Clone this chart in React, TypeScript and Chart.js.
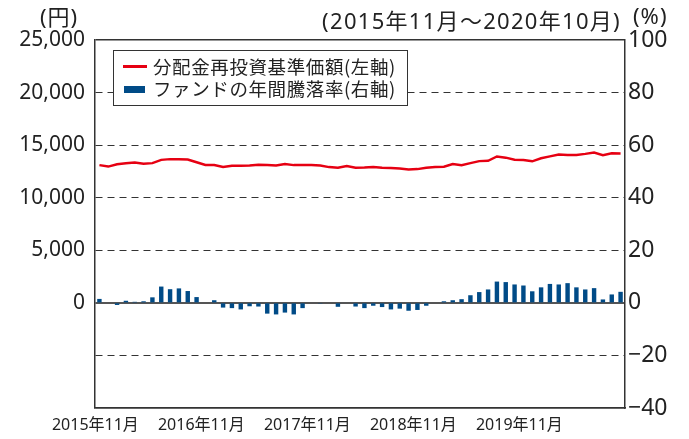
import React, { useEffect, useRef } from "react";
import { Chart, registerables } from "chart.js";

Chart.register(...registerables);

const months: string[] = [
  "2015年11月", "2015年12月", "2016年1月", "2016年2月", "2016年3月", "2016年4月",
  "2016年5月", "2016年6月", "2016年7月", "2016年8月", "2016年9月", "2016年10月",
  "2016年11月", "2016年12月", "2017年1月", "2017年2月", "2017年3月", "2017年4月",
  "2017年5月", "2017年6月", "2017年7月", "2017年8月", "2017年9月", "2017年10月",
  "2017年11月", "2017年12月", "2018年1月", "2018年2月", "2018年3月", "2018年4月",
  "2018年5月", "2018年6月", "2018年7月", "2018年8月", "2018年9月", "2018年10月",
  "2018年11月", "2018年12月", "2019年1月", "2019年2月", "2019年3月", "2019年4月",
  "2019年5月", "2019年6月", "2019年7月", "2019年8月", "2019年9月", "2019年10月",
  "2019年11月", "2019年12月", "2020年1月", "2020年2月", "2020年3月", "2020年4月",
  "2020年5月", "2020年6月", "2020年7月", "2020年8月", "2020年9月", "2020年10月",
];

// 分配金再投資基準価額 (円, left axis)
const navValues: number[] = [
  13100, 12960, 13180, 13280, 13340, 13230, 13290, 13600, 13670, 13670, 13640, 13370,
  13110, 13120, 12920, 13050, 13040, 13070, 13130, 13100, 13060, 13200, 13100, 13100,
  13100, 13070, 12910, 12850, 13010, 12850, 12870, 12910, 12850, 12820, 12780, 12680,
  12720, 12850, 12910, 12940, 13200, 13100, 13290, 13480, 13510, 13920, 13810, 13610,
  13580, 13460, 13750, 13930, 14100, 14070, 14070, 14170, 14290, 14050, 14220, 14200,
];

// ファンドの年間騰落率 (%, right axis)
const yearlyReturn: number[] = [
  1.5, 0, -0.8, 0.8, 0.4, 0.6, 2.1, 6.2, 5.2, 5.5, 4.5, 2.2,
  0, 1.0, -1.8, -2.0, -2.5, -1.3, -1.4, -4.1, -4.4, -3.7, -4.4, -2.0,
  0, -0.3, 0, -1.5, 0, -1.4, -2.0, -1.1, -1.6, -2.5, -2.2, -3.0,
  -2.7, -1.1, 0.2, 0.6, 1.0, 1.4, 2.9, 4.1, 5.1, 8.1, 7.9, 7.0,
  6.6, 4.4, 5.9, 7.2, 7.0, 7.5, 5.9, 5.1, 5.6, 1.3, 3.2, 4.2,
];

const navLabel = "分配金再投資基準価額(左軸)";
const returnLabel = "ファンドの年間騰落率(右軸)";
const leftUnit = "(円)";
const rightUnit = "(%)";
const periodText = "(2015年11月～2020年10月)";

const leftTicks = { min: -10000, max: 25000, step: 5000 };
const rightTicks = { min: -40, max: 100, step: 20 };

const RED = "#e60012";
const BLUE = "#004b87";
const TEXT = "#222222";
const FONT = "'Noto Sans', 'Noto Sans CJK JP', sans-serif";
const CJK_FONT = "'Noto Sans CJK JP', 'Noto Sans', sans-serif";

const overlayPlugin = {
  id: "overlay",
  afterDraw(chart: any) {
    const ctx = chart.ctx as any;
    ctx.save();
    ctx.fillStyle = TEXT;
    ctx.textBaseline = "middle";
    ctx.font = `22px ${FONT}`;
    ctx.textAlign = "left";
    ctx.letterSpacing = "1px";
    ctx.fillText(leftUnit, 40, 19);
    ctx.fillText(rightUnit, 633, 18);
    ctx.textAlign = "right";
    ctx.letterSpacing = "1.3px";
    ctx.fillText(periodText, 621, 23);

    // legend box
    const bx = 113, by = 50, bw = 294, bh = 55;
    ctx.fillStyle = "#ffffff";
    ctx.fillRect(bx, by, bw, bh);
    ctx.strokeStyle = "#333333";
    ctx.lineWidth = 1;
    ctx.strokeRect(bx + 0.5, by + 0.5, bw, bh);
    const ds = chart.data.datasets;
    const lineDs = ds.find((d: any) => d.type === "line");
    const barDs = ds.find((d: any) => d.type !== "line");
    ctx.strokeStyle = lineDs.borderColor;
    ctx.lineWidth = 3;
    ctx.beginPath();
    ctx.moveTo(123, 66.5);
    ctx.lineTo(147, 66.5);
    ctx.stroke();
    ctx.fillStyle = barDs.backgroundColor;
    ctx.fillRect(124, 86, 21, 7);
    ctx.fillStyle = TEXT;
    ctx.textAlign = "left";
    ctx.letterSpacing = "0.6px";
    ctx.font = `18.5px ${CJK_FONT}`;
    ctx.fillText(lineDs.label, 153, 66.5);
    ctx.fillText(barDs.label, 153, 89);
    ctx.restore();
  },
};

export default function App() {
  const canvasRef = useRef<HTMLCanvasElement | null>(null);

  useEffect(() => {
    if (!canvasRef.current) return;
    const chart = new Chart(canvasRef.current, {
      type: "bar",
      data: {
        labels: months,
        datasets: [
          {
            type: "line",
            label: navLabel,
            data: navValues,
            borderColor: RED,
            backgroundColor: RED,
            borderWidth: 2.5,
            pointRadius: 0,
            tension: 0,
            yAxisID: "y",
            order: 0,
          } as any,
          {
            type: "bar",
            label: returnLabel,
            data: yearlyReturn,
            backgroundColor: BLUE,
            barPercentage: 0.5,
            categoryPercentage: 1,
            yAxisID: "y2",
            order: 1,
          },
        ],
      },
      options: {
        animation: false,
        responsive: true,
        maintainAspectRatio: false,
        layout: { padding: { top: 40, left: 0, right: 0, bottom: 0 } },
        plugins: { legend: { display: false }, tooltip: { enabled: false }, title: { display: false } },
        scales: {
          x: {
            type: "category",
            offset: true,
            grid: { display: false, drawTicks: false },
            border: { display: true, color: "#333333", width: 1.5 },
            ticks: {
              autoSkip: false,
              maxRotation: 0,
              minRotation: 0,
              padding: 8,
              labelOffset: -4,
              color: TEXT,
              font: { family: FONT, size: 16 },
              callback: (_v: any, i: number) => (i % 12 === 0 ? months[i] : ""),
            },
            afterFit: (s: any) => {
              s.height = 31;
            },
          },
          y: {
            type: "linear",
            position: "left",
            min: leftTicks.min,
            max: leftTicks.max,
            ticks: {
              stepSize: leftTicks.step,
              padding: 10,
              color: TEXT,
              font: { family: FONT, size: 21 },
              callback: (v: any) => (Number(v) < 0 ? "" : Number(v).toLocaleString("en-US")),
            },
            grid: {
              drawTicks: false,
              color: (c: any) => (c.tick && c.tick.value === 0 ? "#555555" : "#333333"),
              lineWidth: (c: any) => (c.tick && (c.tick.value === 0) ? 2 : c.tick && (c.tick.value === leftTicks.max || c.tick.value === leftTicks.min) ? 1.5 : 1),
            },
            border: {
              display: true,
              color: "#333333",
              width: 1.5,
              dash: (c: any) =>
                c.tick && (c.tick.value === 0 || c.tick.value === leftTicks.max || c.tick.value === leftTicks.min)
                  ? []
                  : [7, 5],
            } as any,
            afterFit: (s: any) => {
              s.width = 95;
            },
          },
          y2: {
            type: "linear",
            position: "right",
            min: rightTicks.min,
            max: rightTicks.max,
            ticks: {
              stepSize: rightTicks.step,
              padding: 3,
              color: TEXT,
              font: { family: FONT, size: 23 },
              callback: (v: any) => (Number(v) < 0 ? "\u2212" + Math.abs(Number(v)) : String(v)),
            },
            grid: { drawOnChartArea: false, drawTicks: false },
            border: { display: true, color: "#333333", width: 1.5 },
            afterFit: (s: any) => {
              s.width = 64;
            },
          },
        },
      },
      plugins: [overlayPlugin],
    });
    return () => chart.destroy();
  }, []);

  return (
    <div style={{ position: "fixed", left: 0, top: 0, width: 689, height: 439, background: "#ffffff" }}>
      <canvas ref={canvasRef} />
    </div>
  );
}
